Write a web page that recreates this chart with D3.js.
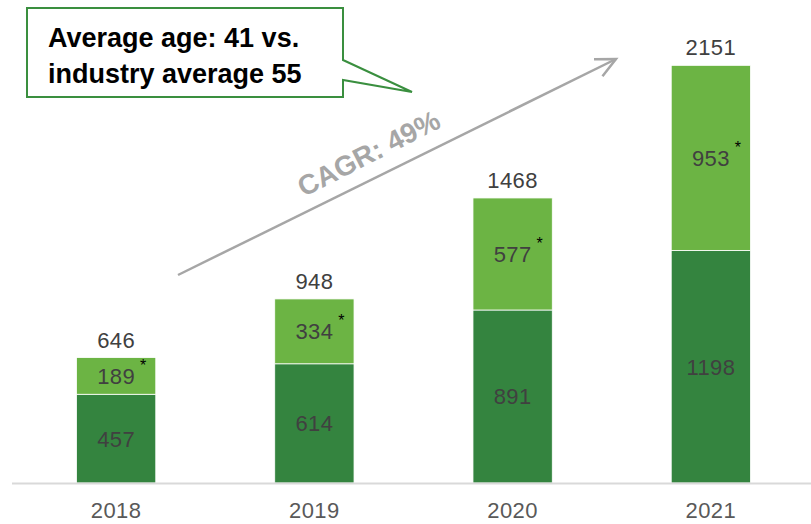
<!DOCTYPE html>
<html>
<head>
<meta charset="utf-8">
<script src="https://cdn.jsdelivr.net/npm/d3@7"></script>
<style>
  html, body { margin: 0; padding: 0; background: #fff; }
  svg { display: block; }
</style>
</head>
<body>
<svg id="chart" width="811" height="524"></svg>
<script>
const years = ["2018", "2019", "2020", "2021"];
const baseValues = [457, 614, 891, 1198];
const addedValues = [189, 334, 577, 953];
const totals = [646, 948, 1468, 2151];
const calloutLines = ["Average age: 41 vs.", "industry average 55"];
const cagrLabel = "CAGR: 49%";

const W = 811, H = 524;
const svg = d3.select("#chart");
const baseY = 483;

const x = d3.scaleBand().domain(years).range([17, 810]).paddingInner(0.6).paddingOuter(0.3);
const y = d3.scaleLinear().domain([0, 2400]).range([baseY, 17]);

const darkGreen = "#34843f";
const lightGreen = "#6cb444";
const textCol = "#404040";

// bars
const g = svg.append("g");
g.selectAll("rect.base").data(years).join("rect")
  .attr("x", d => x(d)).attr("width", x.bandwidth())
  .attr("y", (d, i) => y(baseValues[i]))
  .attr("height", (d, i) => y(0) - y(baseValues[i]))
  .attr("fill", darkGreen).attr("stroke", "#ffffff").attr("stroke-width", 0.8);
g.selectAll("rect.added").data(years).join("rect")
  .attr("x", d => x(d)).attr("width", x.bandwidth())
  .attr("y", (d, i) => y(baseValues[i] + addedValues[i]))
  .attr("height", (d, i) => y(baseValues[i]) - y(baseValues[i] + addedValues[i]))
  .attr("fill", lightGreen).attr("stroke", "#ffffff").attr("stroke-width", 0.8);

// axis line
svg.append("line").attr("x1", 12).attr("x2", 811).attr("y1", baseY + 0.5).attr("y2", baseY + 0.5)
  .attr("stroke", "#d9d9d9").attr("stroke-width", 2);

const font = "'Liberation Sans', Arial, sans-serif";
const numSize = 22;

// labels inside
g.selectAll("text.base").data(years).join("text")
  .attr("x", d => x(d) + x.bandwidth() / 2)
  .attr("y", (d, i) => (y(0) + y(baseValues[i])) / 2)
  .attr("dy", "0.36em").attr("text-anchor", "middle")
  .attr("font-family", font).attr("font-size", numSize).attr("letter-spacing", 0.4).attr("fill", textCol)
  .text((d, i) => baseValues[i]);
g.selectAll("text.added").data(years).join("text")
  .attr("x", d => x(d) + x.bandwidth() / 2)
  .attr("y", (d, i) => (y(baseValues[i]) + y(baseValues[i] + addedValues[i])) / 2)
  .attr("dy", "0.36em").attr("text-anchor", "middle")
  .attr("font-family", font).attr("font-size", numSize).attr("letter-spacing", 0.4).attr("fill", textCol)
  .text((d, i) => addedValues[i]);
// asterisks
g.selectAll("text.ast").data(years).join("text")
  .attr("x", d => x(d) + x.bandwidth() / 2 + 27)
  .attr("y", (d, i) => (y(baseValues[i]) + y(baseValues[i] + addedValues[i])) / 2 - 5)
  .attr("text-anchor", "middle")
  .attr("font-family", font).attr("font-size", 16).attr("fill", "#000")
  .text("*");
// totals
g.selectAll("text.total").data(years).join("text")
  .attr("x", d => x(d) + x.bandwidth() / 2)
  .attr("y", (d, i) => y(totals[i]) - 10)
  .attr("text-anchor", "middle")
  .attr("font-family", font).attr("font-size", numSize).attr("letter-spacing", 0.4).attr("fill", textCol)
  .text((d, i) => totals[i]);
// year labels
g.selectAll("text.year").data(years).join("text")
  .attr("x", d => x(d) + x.bandwidth() / 2)
  .attr("y", 518)
  .attr("text-anchor", "middle")
  .attr("font-family", font).attr("font-size", 22).attr("letter-spacing", 0.4).attr("fill", "#595959")
  .text(d => d);

// CAGR arrow
const ax1 = 178, ay1 = 275, ax2 = 616, ay2 = 59;
const ang = Math.atan2(ay2 - ay1, ax2 - ax1);
svg.append("line").attr("x1", ax1).attr("y1", ay1).attr("x2", ax2).attr("y2", ay2)
  .attr("stroke", "#a6a6a6").attr("stroke-width", 2.5);
const headLen = 22, headAng = 0.45;
const hp = [
  [ax2 - headLen * Math.cos(ang - headAng), ay2 - headLen * Math.sin(ang - headAng)],
  [ax2, ay2],
  [ax2 - headLen * Math.cos(ang + headAng), ay2 - headLen * Math.sin(ang + headAng)]
];
svg.append("path").attr("d", d3.line()(hp)).attr("fill", "none")
  .attr("stroke", "#a6a6a6").attr("stroke-width", 2.5).attr("stroke-linejoin", "miter");
svg.append("text")
  .attr("transform", "translate(373,162) rotate(-27)")
  .attr("text-anchor", "middle")
  .attr("font-family", font).attr("font-weight", "bold").attr("font-size", 28)
  .attr("fill", "#a6a6a6").text(cagrLabel);

// callout
const callout = [[27, 8], [343, 8], [343, 60], [412, 92], [343, 80], [343, 97], [27, 97]];
svg.append("path").attr("d", d3.line()(callout) + "Z")
  .attr("fill", "#fff").attr("stroke", "#3a8f3f").attr("stroke-width", 2);
svg.selectAll("text.call").data(calloutLines).join("text")
  .attr("x", 48).attr("y", (d, i) => 47 + i * 36)
  .attr("font-family", font).attr("font-weight", "bold").attr("font-size", 27)
  .attr("fill", "#000").text(d => d);
</script>
</body>
</html>
